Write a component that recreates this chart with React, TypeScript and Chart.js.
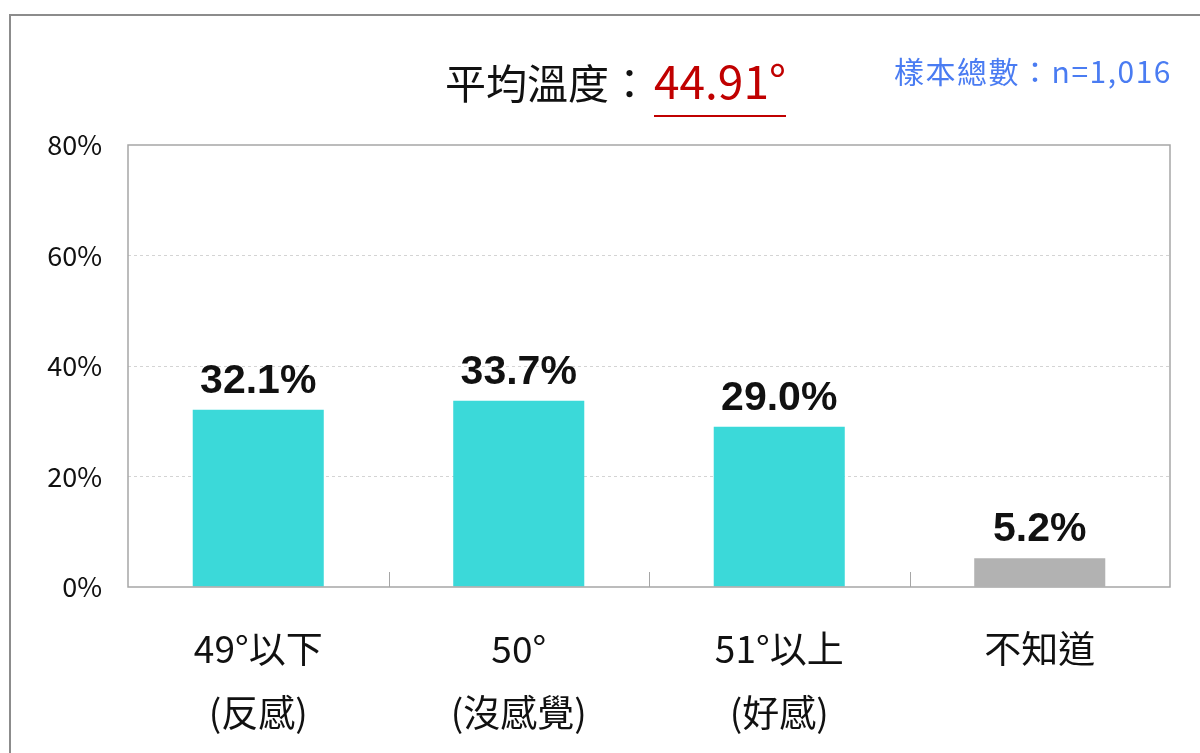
import React, { useEffect, useRef } from "react";
import { Chart, registerables } from "chart.js";

Chart.register(...registerables);

const categories: string[][] = [["49°以下", "(反感)"], ["50°", "(沒感覺)"], ["51°以上", "(好感)"], ["不知道"]];
const values: number[] = [32.1, 33.7, 29.0, 5.2];
const barColors: string[] = ["#3BD9D9", "#3BD9D9", "#3BD9D9", "#B2B2B2"];
const yTickValues: number[] = [0, 20, 40, 60, 80];
const titleText = "平均溫度：";
const meanText = "44.91°";
const sampleText = "樣本總數：n=1,016";

const CJK = '"Noto Sans CJK TC", "Noto Sans", sans-serif';

const decorPlugin = {
  id: "decor",
  afterDatasetsDraw(chart: any) {
    const { ctx, chartArea } = chart;
    const xs = chart.scales.x;
    ctx.save();
    ctx.strokeStyle = "#A6A6A6";
    ctx.lineWidth = 1.5;
    ctx.strokeRect(chartArea.left, chartArea.top, chartArea.right - chartArea.left, chartArea.bottom - chartArea.top);
    ctx.lineWidth = 1;
    for (let i = 0; i < values.length - 1; i++) {
      const bx = Math.round((xs.getPixelForValue(i) + xs.getPixelForValue(i + 1)) / 2) + 0.5;
      ctx.beginPath();
      ctx.moveTo(bx, chartArea.bottom);
      ctx.lineTo(bx, chartArea.bottom - 15);
      ctx.stroke();
    }
    const meta = chart.getDatasetMeta(0);
    ctx.fillStyle = "#111";
    ctx.font = 'bold 41px "Liberation Sans", Arial, sans-serif';
    ctx.textAlign = "center";
    ctx.textBaseline = "alphabetic";
    meta.data.forEach((bar: any, i: number) => {
      ctx.fillText(values[i].toFixed(1) + "%", bar.x, bar.y - 17);
    });
    ctx.restore();
  },
};

export default function App() {
  const ref = useRef<HTMLCanvasElement | null>(null);
  useEffect(() => {
    if (!ref.current) return;
    const chart = new Chart(ref.current, {
      type: "bar",
      data: {
        labels: categories,
        datasets: [
          {
            data: values,
            backgroundColor: barColors,
            borderWidth: 0,
            barPercentage: 0.503,
            categoryPercentage: 1,
          },
        ],
      },
      options: {
        responsive: false,
        animation: false,
        layout: { padding: { top: 145, right: 30, bottom: 0, left: 0 } },
        plugins: { legend: { display: false }, tooltip: { enabled: false }, title: { display: false } },
        scales: {
          x: {
            grid: { display: false },
            border: { display: false },
            ticks: {
              color: "#111",
              font: { family: CJK, size: 37, lineHeight: 1.73 },
              padding: 22,
              maxRotation: 0,
              autoSkip: false,
            },
            afterFit(scale: any) {
              scale.height = 166;
            },
          },
          y: {
            min: 0,
            max: 80,
            afterBuildTicks(scale: any) {
              scale.ticks = yTickValues.map((v) => ({ value: v }));
            },
            grid: {
              drawTicks: false,
              color: (c: any) => (c.tick && (c.tick.value === 0 || c.tick.value === 80) ? "rgba(0,0,0,0)" : "#D4D4D4"),
              lineWidth: 1,
            },
            border: { display: false, dash: [3, 3] },
            ticks: {
              color: "#111",
              font: { family: CJK, size: 27 },
              padding: 26,
              callback: (v: any) => v + "%",
            },
            afterFit(scale: any) {
              scale.width = 128;
            },
          },
        },
      },
      plugins: [decorPlugin],
    } as any);
    return () => chart.destroy();
  }, []);

  return (
    <div style={{ position: "fixed", left: 0, top: 0, width: 1200, height: 753, overflow: "hidden", background: "#fff" }}>
      <div
        style={{
          position: "absolute",
          left: 9,
          top: 14,
          width: 1300,
          height: 900,
          borderLeft: "2px solid #8C8C8C",
          borderTop: "2px solid #8C8C8C",
          boxSizing: "border-box",
        }}
      />
      <canvas ref={ref} width={1200} height={753} style={{ position: "absolute", left: 0, top: 0 }} />
      <div
        style={{
          position: "absolute",
          left: 445,
          top: 59,
          fontFamily: CJK,
          fontSize: 41,
          lineHeight: "41px",
          color: "#111",
          whiteSpace: "nowrap",
        }}
      >
        <span>{titleText}</span>
        <span
          style={{
            color: "#C00000",
            fontSize: 46,
            borderBottom: "2px solid #C00000",
            paddingBottom: 15,
            marginLeft: 4,
            display: "inline-block",
            lineHeight: "41px",
          }}
        >
          {meanText}
        </span>
      </div>
      <div
        style={{
          position: "absolute",
          right: 28,
          top: 55,
          fontFamily: CJK,
          fontSize: 30,
          lineHeight: "30px",
          color: "#4A7CF2",
          whiteSpace: "nowrap",
          letterSpacing: 1.5,
        }}
      >
        {sampleText}
      </div>
    </div>
  );
}
